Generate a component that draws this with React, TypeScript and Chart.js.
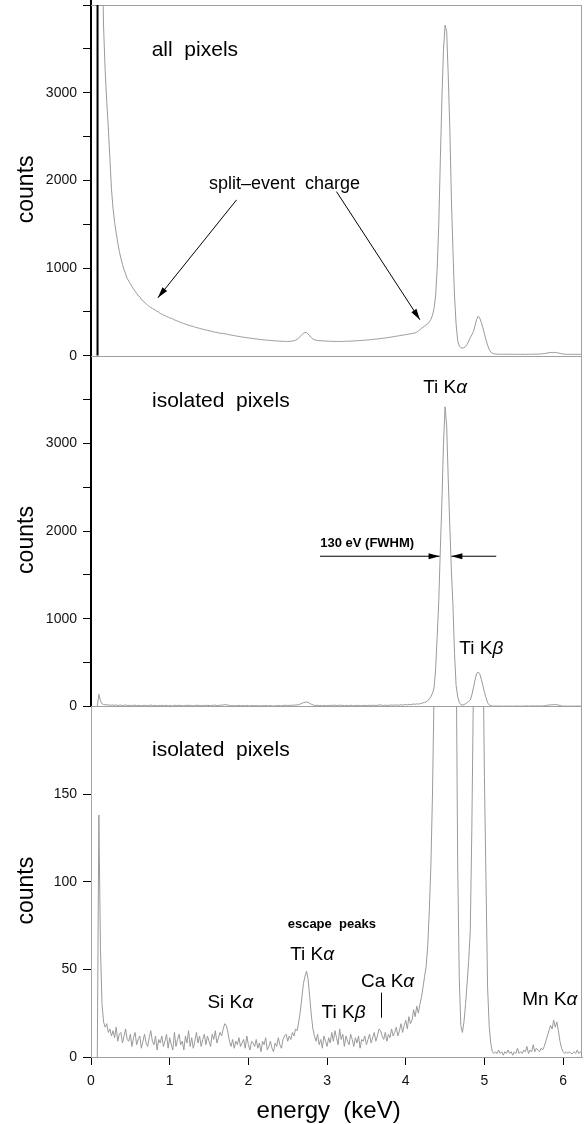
import React, { useEffect, useRef } from 'react';
import { Chart, registerables } from 'chart.js';

Chart.register(...registerables);

// ---- spectrum channels (energy calibration of the histogram) ----
const ENERGY_START_KEV = 0.08;
const CHANNEL_WIDTH_KEV = 0.02;

// counts per channel, all pixels (upper panel)
const countsAllPixels = [
  12000, 9000, 6500, 4700, 3750, 3250, 2900, 2600, 2250, 1900,
  1680, 1520, 1400, 1290, 1190, 1110, 1040, 980, 930, 880,
  850, 822, 790, 761, 736, 712, 684, 672, 641, 630,
  606, 594, 575, 562, 549, 538, 529, 516, 505, 497,
  482, 476, 462, 458, 446, 441, 431, 426, 419, 407,
  403, 393, 386, 380, 372, 366, 361, 352, 349, 341,
  338, 332, 326, 321, 316, 311, 306, 302, 297, 293,
  289, 284, 281, 275, 273, 266, 265, 259, 257, 252,
  255, 249, 247, 242, 239, 235, 232, 229, 225, 222,
  220, 216, 214, 210, 208, 205, 203, 199, 198, 195,
  193, 191, 188, 186, 184, 182, 180, 178, 177, 175,
  174, 172, 171, 169, 168, 167, 166, 165, 164, 163,
  163, 162, 163, 164, 167, 170, 176, 186, 200, 222,
  240, 255, 264, 262, 248, 226, 205, 190, 182, 176,
  174, 172, 170, 169, 168, 167, 166, 165, 164, 164,
  163, 163, 162, 162, 163, 162, 163, 164, 164, 165,
  166, 166, 167, 168, 169, 170, 171, 172, 174, 175,
  177, 178, 180, 181, 183, 185, 187, 189, 191, 193,
  195, 197, 200, 202, 205, 207, 210, 213, 216, 219,
  222, 225, 228, 231, 234, 237, 240, 243, 246, 249,
  252, 256, 260, 268, 282, 296, 312, 326, 340, 352,
  362, 385, 415, 460, 540, 690, 1000, 1500, 2250, 2950,
  3500, 3770, 3700, 3200, 2600, 1800, 1200, 680, 360, 170,
  110, 92, 86, 90, 104, 128, 165, 205, 240, 275,
  340, 410, 450, 430, 380, 320, 250, 180, 120, 72,
  42, 28, 21, 18, 17, 18, 16, 17, 15, 17,
  16, 15, 17, 15, 16, 14, 16, 15, 17, 14,
  16, 15, 14, 16, 15, 17, 15, 16, 18, 17,
  19, 18, 20, 22, 24, 27, 30, 34, 36, 35,
  38, 36, 34, 30, 26, 22, 19, 17, 16, 15,
  16, 14, 15, 16, 14, 15, 16, 15, 14,
];

// counts per channel, isolated pixels (middle and lower panels)
const countsIsolated = [
  0, 138, 62, 30, 20, 17, 19, 14, 16, 12,
  15, 11, 17, 9, 13, 14, 8, 12, 16, 10,
  9, 13, 6, 11, 14, 7, 10, 12, 5, 9,
  13, 8, 6, 11, 15, 9, 7, 12, 4, 10,
  8, 12, 6, 9, 13, 5, 11, 7, 4, 14,
  6, 10, 13, 7, 9, 4, 12, 8, 15, 6,
  11, 5, 9, 14, 8, 12, 6, 10, 13, 7,
  12, 9, 6, 13, 10, 15, 8, 11, 14, 12,
  16, 19, 18, 14, 9, 6, 10, 5, 9, 7,
  11, 6, 8, 10, 5, 12, 7, 4, 9, 8,
  6, 10, 5, 8, 3, 9, 7, 11, 4, 6,
  9, 5, 3, 8, 6, 11, 7, 5, 10, 12,
  13, 9, 12, 10, 14, 12, 16, 15, 20, 26,
  34, 42, 46, 49, 44, 34, 24, 16, 12, 9,
  13, 7, 10, 5, 12, 9, 6, 11, 8, 14,
  9, 15, 11, 7, 16, 10, 13, 6, 12, 9,
  7, 13, 10, 6, 11, 8, 12, 5, 10, 9,
  12, 7, 10, 13, 8, 11, 14, 9, 12, 16,
  15, 12, 10, 14, 9, 13, 11, 16, 12, 14,
  17, 12, 15, 19, 14, 18, 21, 16, 23, 19,
  21, 27, 23, 29, 25, 30, 34, 40, 46, 52,
  64, 84, 110, 150, 210, 430, 800, 1210, 1800, 2350,
  3000, 3417, 3200, 2600, 2050, 1550, 1150, 600, 240, 110,
  45, 18, 14, 20, 30, 42, 55, 72, 130, 210,
  300, 370, 392, 370, 310, 240, 160, 100, 40, 18,
  8, 3, 2, 3, 2, 4, 2, 3, 1, 3,
  2, 4, 2, 3, 1, 3, 2, 5, 2, 3,
  2, 4, 3, 6, 2, 4, 3, 7, 3, 5,
  4, 3, 5, 4, 6, 9, 12, 15, 18, 16,
  21, 17, 20, 15, 9, 5, 3, 2, 3, 2,
  3, 2, 2, 3, 2, 4, 2, 3, 2,
];

// low-energy threshold marker in the upper panel
const thresholdEnergy = [0.083, 0.083];
const thresholdCounts = [0, 4000];

// axis ranges / ticks
const ENERGY_MAX = 6.24;
const COUNTS_MAX_FULL = 4000;
const COUNTS_MAX_ZOOM = 200;

// annotations (data coordinates)
const LABELS = [
  { axis: 'yAll', e: 1.32, c: 3485, parts: [['all  pixels', false]], size: 21 },
  { axis: 'yAll', e: 2.46, c: 1960, parts: [['split–event  charge', false]], size: 18 },
  { axis: 'yIso', e: 1.65, c: 3482, parts: [['isolated  pixels', false]], size: 21 },
  { axis: 'yIso', e: 4.5, c: 3630, parts: [['Ti K', false], ['α', true]], size: 19 },
  { axis: 'yIso', e: 3.51, c: 1860, parts: [['130 eV (FWHM)', false]], size: 13, bold: true },
  { axis: 'yIso', e: 4.96, c: 662, parts: [['Ti K', false], ['β', true]], size: 19 },
  { axis: 'yZoom', e: 1.65, c: 175, parts: [['isolated  pixels', false]], size: 21 },
  { axis: 'yZoom', e: 1.77, c: 31, parts: [['Si K', false], ['α', true]], size: 19 },
  { axis: 'yZoom', e: 3.06, c: 75.7, parts: [['escape  peaks', false]], size: 13, bold: true },
  { axis: 'yZoom', e: 2.81, c: 58.5, parts: [['Ti K', false], ['α', true]], size: 19 },
  { axis: 'yZoom', e: 3.21, c: 25, parts: [['Ti K', false], ['β', true]], size: 19 },
  { axis: 'yZoom', e: 3.77, c: 43, parts: [['Ca K', false], ['α', true]], size: 19 },
  { axis: 'yZoom', e: 5.83, c: 32.7, parts: [['Mn K', false], ['α', true]], size: 19 },
];

const ARROWS = [
  { axis: 'yAll', from: [1.85, 1777], to: [0.85, 660] },
  { axis: 'yAll', from: [3.12, 1871], to: [4.18, 410] },
  { axis: 'yIso', from: [2.91, 1712], to: [4.43, 1712] },
  { axis: 'yIso', from: [5.15, 1712], to: [4.58, 1712] },
];

const CA_MARK = { axis: 'yZoom', e: 3.69, c1: 22.4, c2: 36.7 };
const X_TITLE_ENERGY = 3.02;

const FONT = "'Liberation Sans', Arial, sans-serif";
const LINE_GRAY = '#9a9a9a';

const energyOf = (i: number) => +(ENERGY_START_KEV + i * CHANNEL_WIDTH_KEV).toFixed(2);
const toPoints = (counts: number[]) => counts.map((c, i) => ({ x: energyOf(i), y: c }));

const panelClip = {
  id: 'panelClip',
  beforeDatasetDraw(chart: any, args: any) {
    const ys = chart.scales[args.meta.yAxisID];
    const { left, right } = chart.chartArea;
    const ctx = chart.ctx;
    ctx.save();
    ctx.beginPath();
    ctx.rect(left, ys.top, right - left, ys.bottom - ys.top + 1);
    ctx.clip();
  },
  afterDatasetDraw(chart: any) {
    chart.ctx.restore();
  },
};

function drawArrow(ctx: CanvasRenderingContext2D, x1: number, y1: number, x2: number, y2: number) {
  const head = 11;
  const half = 3;
  ctx.beginPath();
  ctx.moveTo(x1, y1);
  ctx.lineTo(x2, y2);
  ctx.stroke();
  const a = Math.atan2(y2 - y1, x2 - x1);
  const bx = x2 - head * Math.cos(a);
  const by = y2 - head * Math.sin(a);
  ctx.beginPath();
  ctx.moveTo(x2, y2);
  ctx.lineTo(bx + half * Math.sin(a), by - half * Math.cos(a));
  ctx.lineTo(bx - half * Math.sin(a), by + half * Math.cos(a));
  ctx.closePath();
  ctx.fill();
}

const frame = {
  id: 'frame',
  beforeDatasetsDraw(chart: any) {
    const { ctx, chartArea: a, scales } = chart;
    ctx.save();
    ctx.strokeStyle = '#a0a0a0';
    ctx.lineWidth = 1;
    ctx.beginPath();
    ctx.moveTo(a.left, a.top + 0.5);
    ctx.lineTo(a.right, a.top + 0.5);
    ctx.moveTo(a.right - 0.5, a.top);
    ctx.lineTo(a.right - 0.5, a.bottom);
    for (const id of ['yAll', 'yIso']) {
      const b = Math.round(scales[id].bottom) + 0.5;
      ctx.moveTo(a.left, b);
      ctx.lineTo(a.right, b);
    }
    ctx.stroke();
    ctx.restore();
  },
};

const overlay = {
  id: 'overlay',
  afterDraw(chart: any) {
    const { ctx, chartArea: a, scales } = chart;
    const xs = scales.x;
    ctx.save();
    ctx.fillStyle = '#000';
    ctx.strokeStyle = '#000';
    ctx.lineWidth = 1;

    // axis stub above the frame
    ctx.fillRect(a.left - 1, 0, 2, a.top);

    // texts
    ctx.textBaseline = 'middle';
    for (const L of LABELS) {
      const ys = scales[L.axis];
      const cx = xs.getPixelForValue(L.e);
      const cy = ys.getPixelForValue(L.c);
      const weight = L.bold ? 'bold ' : '';
      const fonts = L.parts.map(([, it]: any) => `${it ? 'italic ' : ''}${weight}${L.size}px ${FONT}`);
      let total = 0;
      const widths = L.parts.map(([t]: any, i: number) => {
        ctx.font = fonts[i];
        const w = ctx.measureText(t).width;
        total += w;
        return w;
      });
      let x = cx - total / 2;
      ctx.textAlign = 'left';
      L.parts.forEach(([t]: any, i: number) => {
        ctx.font = fonts[i];
        ctx.fillText(t, x, cy);
        x += widths[i];
      });
    }

    // arrows
    for (const A of ARROWS) {
      const ys = scales[A.axis];
      drawArrow(
        ctx,
        xs.getPixelForValue(A.from[0]), ys.getPixelForValue(A.from[1]),
        xs.getPixelForValue(A.to[0]), ys.getPixelForValue(A.to[1])
      );
    }

    // Ca K-alpha marker
    {
      const ys = scales[CA_MARK.axis];
      const px = Math.round(xs.getPixelForValue(CA_MARK.e)) + 0.5;
      ctx.beginPath();
      ctx.moveTo(px, ys.getPixelForValue(CA_MARK.c1));
      ctx.lineTo(px, ys.getPixelForValue(CA_MARK.c2));
      ctx.stroke();
    }

    // "counts" titles
    ctx.font = `23px ${FONT}`;
    ctx.textAlign = 'center';
    ctx.textBaseline = 'alphabetic';
    for (const id of ['yAll', 'yIso', 'yZoom']) {
      const s = scales[id];
      ctx.save();
      ctx.translate(33, (s.top + s.bottom) / 2 + 9);
      ctx.rotate(-Math.PI / 2);
      ctx.fillText('counts', 0, 0);
      ctx.restore();
    }

    // x title
    ctx.font = `24px ${FONT}`;
    ctx.textAlign = 'center';
    ctx.textBaseline = 'alphabetic';
    ctx.fillText('energy  (keV)', xs.getPixelForValue(X_TITLE_ENERGY), 1118);

    ctx.restore();
  },
};

function fullTicks(v: number) {
  return v % 1000 === 0 && v < COUNTS_MAX_FULL ? String(v) : '';
}

function yScale(max: number, step: number, weight: number, cb: (v: number) => string, borderColor: string, borderWidth: number) {
  return {
    type: 'linear',
    position: 'left',
    stack: 'panels',
    stackWeight: 1,
    weight,
    min: 0,
    max,
    afterFit: (s: any) => {
      s.width = 91;
      s.paddingTop = 0;
      s.paddingBottom = 0;
    },
    border: { display: true, color: borderColor, width: borderWidth },
    grid: { drawOnChartArea: false, drawTicks: true, tickLength: 8, color: '#000', lineWidth: 1 },
    ticks: {
      stepSize: step,
      includeBounds: false,
      padding: 6,
      color: '#111',
      font: { family: FONT, size: 14 },
      callback: (v: any) => cb(Number(v)),
    },
  };
}

export default function App() {
  const ref = useRef<HTMLCanvasElement | null>(null);

  useEffect(() => {
    document.body.style.margin = '0';
    const canvas = ref.current;
    if (!canvas) return;
    const lineDs = (label: string, data: any, axis: string, color: string, width: number) => ({
      label,
      data,
      yAxisID: axis,
      xAxisID: 'x',
      borderColor: color,
      borderWidth: width,
      pointRadius: 0,
      tension: 0,
      fill: false,
    });
    const chart = new Chart(canvas, {
      type: 'line',
      data: {
        datasets: [
          lineDs('all pixels', toPoints(countsAllPixels), 'yAll', LINE_GRAY, 1),
          lineDs('threshold', thresholdEnergy.map((e, i) => ({ x: e, y: thresholdCounts[i] })), 'yAll', '#000', 2),
          lineDs('isolated pixels', toPoints(countsIsolated), 'yIso', LINE_GRAY, 1),
          lineDs('isolated pixels (zoom)', toPoints(countsIsolated), 'yZoom', LINE_GRAY, 1),
        ] as any,
      },
      options: {
        animation: false,
        responsive: false,
        devicePixelRatio: 1,
        layout: { padding: { top: 5, right: 3, left: 0, bottom: 0 } },
        plugins: { legend: { display: false }, tooltip: { enabled: false } },
        scales: {
          x: {
            type: 'linear',
            position: 'bottom',
            min: 0,
            max: ENERGY_MAX,
            afterFit: (s: any) => {
              s.height = 67;
              s.paddingLeft = 0;
              s.paddingRight = 0;
            },
            border: { display: true, color: '#a0a0a0', width: 1 },
            grid: { drawOnChartArea: false, drawTicks: true, tickLength: 8, color: '#000' },
            ticks: {
              stepSize: 1,
              includeBounds: false,
              maxRotation: 0,
              padding: 8,
              color: '#111',
              font: { family: FONT, size: 14 },
              callback: (v: any) => String(v),
            },
          },
          yAll: yScale(COUNTS_MAX_FULL, 500, 3, fullTicks, '#000', 2),
          yIso: yScale(COUNTS_MAX_FULL, 500, 2, fullTicks, '#000', 2),
          yZoom: yScale(COUNTS_MAX_ZOOM, 50, 1, (v) => (v < COUNTS_MAX_ZOOM ? String(v) : ''), '#a8a8a8', 1),
        } as any,
      },
      plugins: [panelClip, frame, overlay],
    });
    return () => chart.destroy();
  }, []);

  return <canvas ref={ref} width={585} height={1124} style={{ display: 'block' }} />;
}
